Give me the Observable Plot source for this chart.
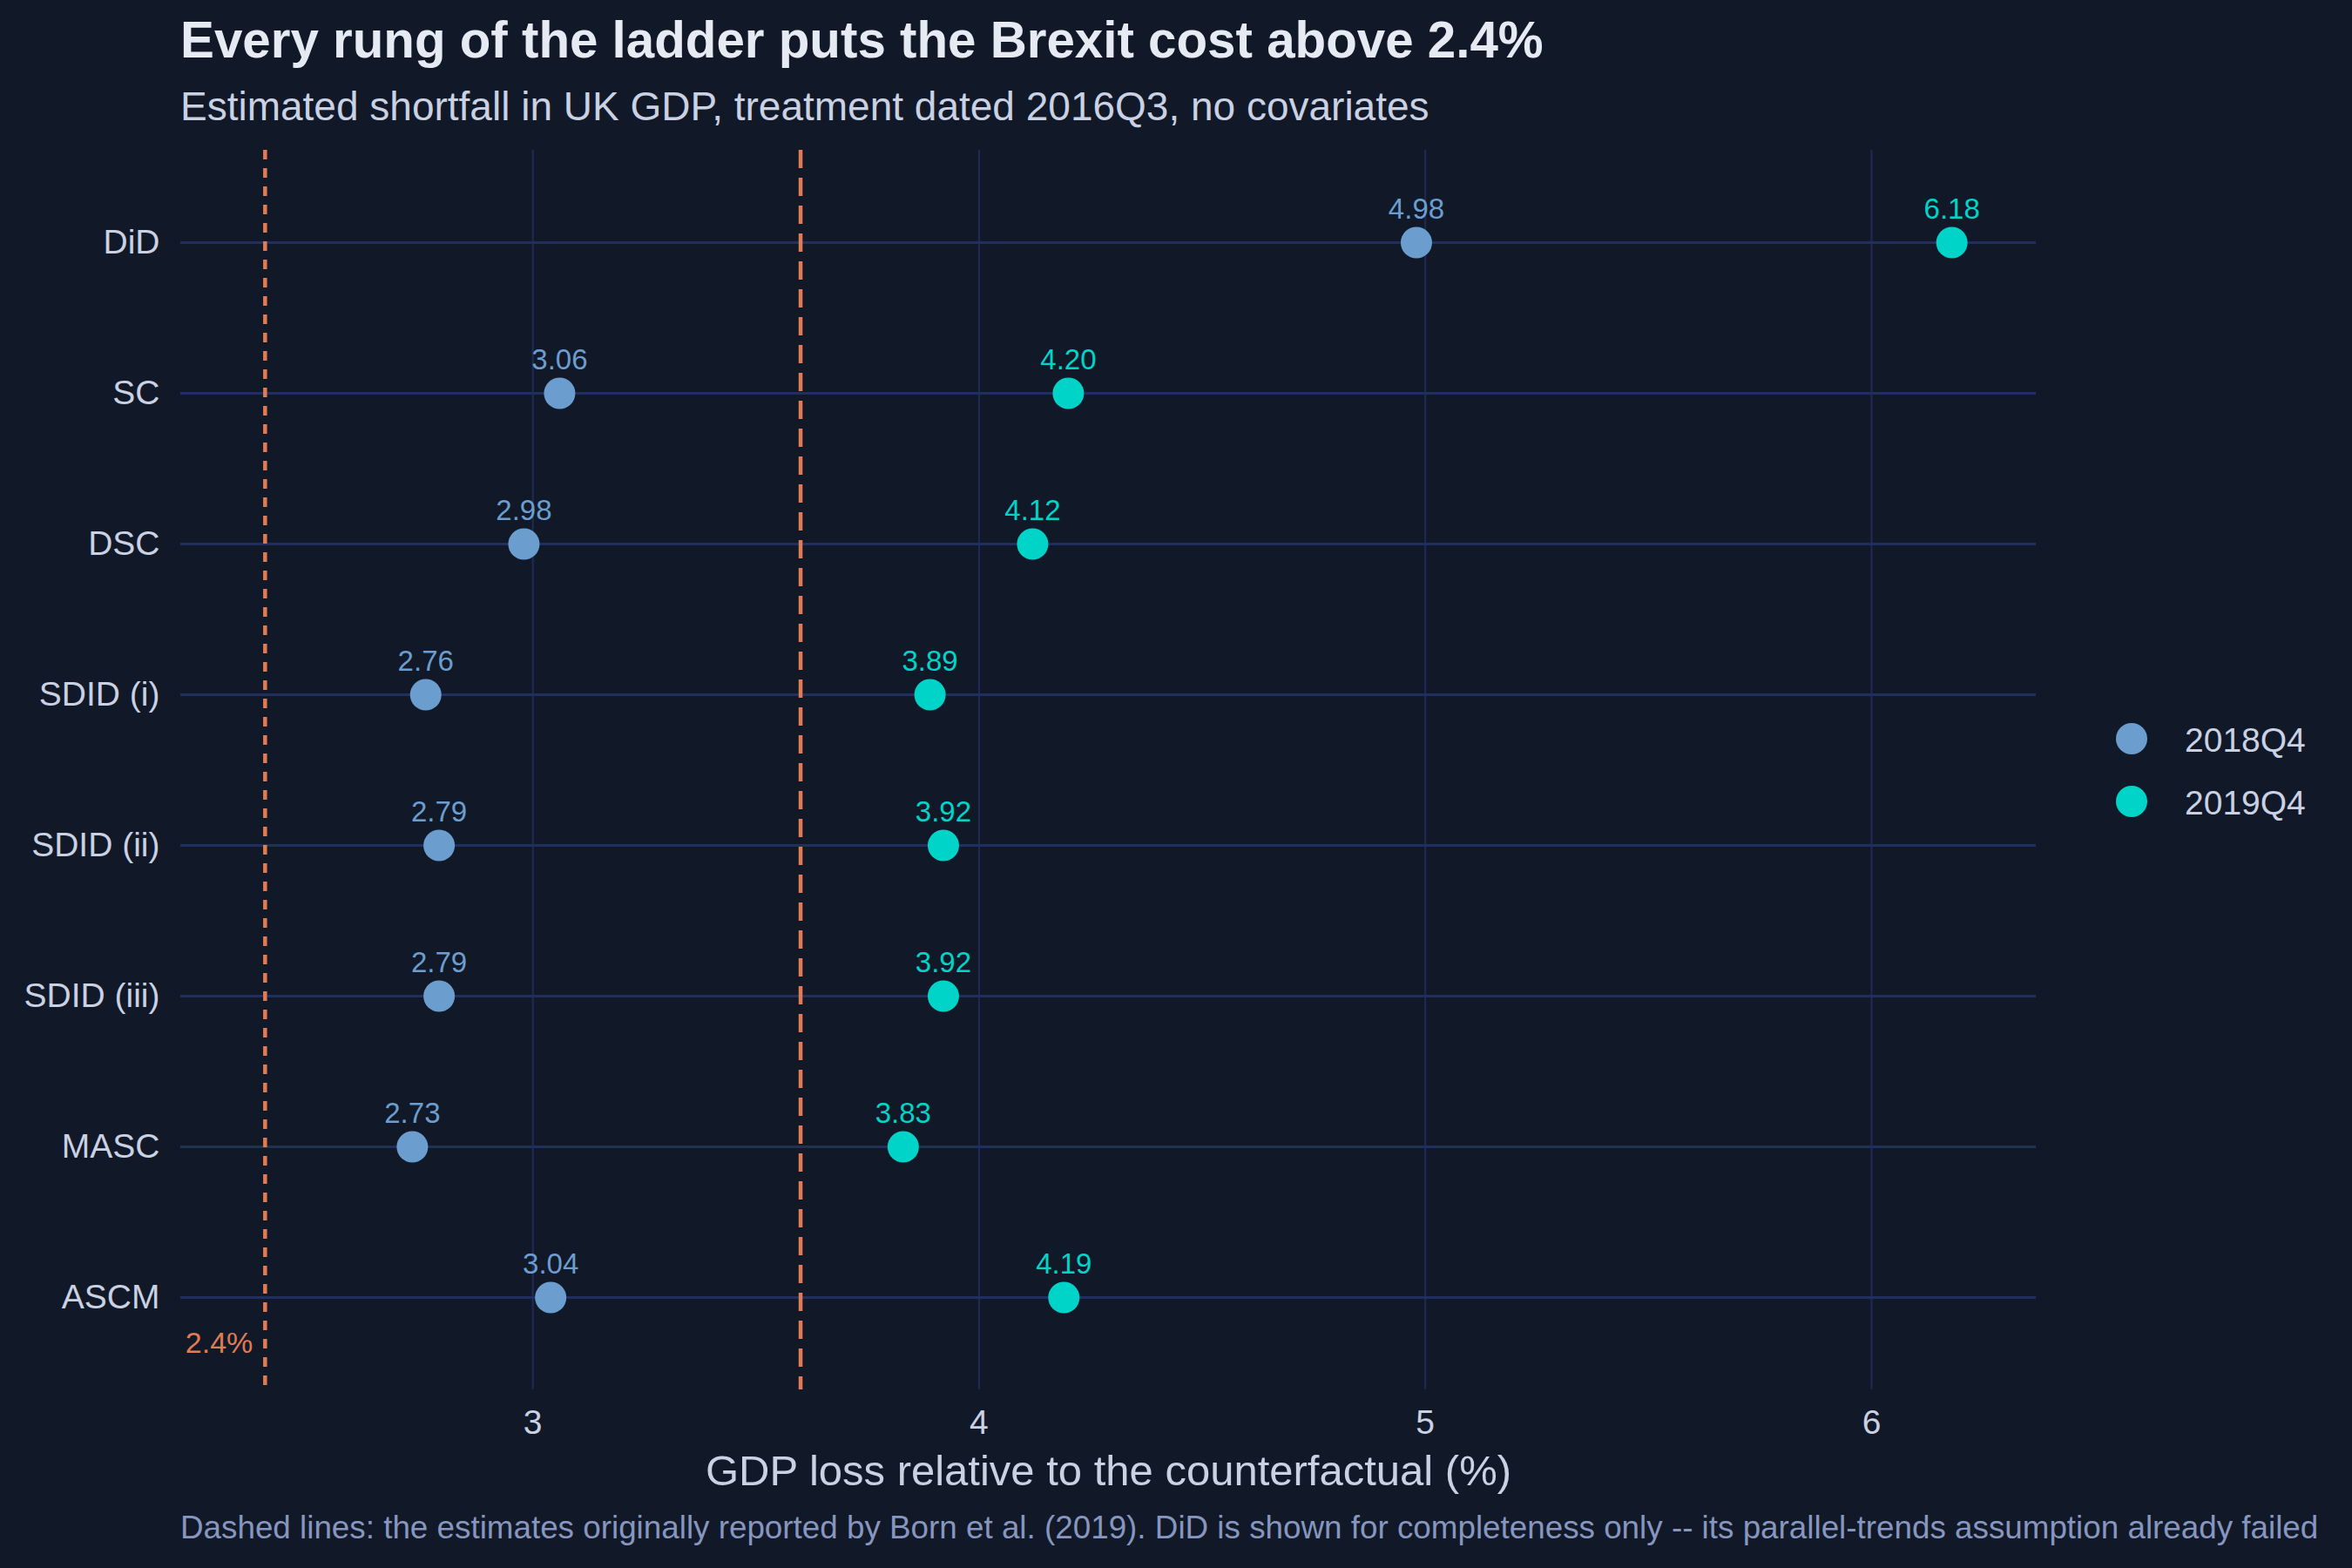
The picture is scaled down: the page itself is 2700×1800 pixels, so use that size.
<!DOCTYPE html>
<html><head><meta charset="utf-8">
<script src="https://cdn.jsdelivr.net/npm/d3@7"></script>
<script src="https://cdn.jsdelivr.net/npm/@observablehq/plot@0.6"></script>
<style>
html,body{margin:0;padding:0;background:#111827;overflow:hidden;}
#page{position:relative;width:2700px;height:1800px;background:#111827;font-family:"Liberation Sans",Arial,sans-serif;overflow:hidden;}
.t{position:absolute;white-space:nowrap;line-height:1;}
#chart{position:absolute;left:0;top:0;}
</style></head><body><div id="page"><div id="chart"></div></div>
<script>
const methods = ["DiD","SC","DSC","SDID (i)","SDID (ii)","SDID (iii)","MASC","ASCM"];
const periods = ["2018Q4","2019Q4"];
const gdpLoss2018Q4 = [4.98,3.06,2.98,2.76,2.79,2.79,2.73,3.04];
const gdpLoss2019Q4 = [6.18,4.20,4.12,3.89,3.92,3.92,3.83,4.19];
const bornEstimates = [2.4, 3.6];
const xTicks = [3,4,5,6];
const periodColors = ["#6b9ecf","#00d4c8"];
const titleText = "Every rung of the ladder puts the Brexit cost above 2.4%";
const subtitleText = "Estimated shortfall in UK GDP, treatment dated 2016Q3, no covariates";
const xLabel = "GDP loss relative to the counterfactual (%)";
const captionText = "Dashed lines: the estimates originally reported by Born et al. (2019). DiD is shown for completeness only -- its parallel-trends assumption already failed";

const data = [];
methods.forEach((m,i)=>{
  data.push({method:m, period:periods[0], value:gdpLoss2018Q4[i]});
  data.push({method:m, period:periods[1], value:gdpLoss2019Q4[i]});
});
const all = [...gdpLoss2018Q4, ...gdpLoss2019Q4, ...bornEstimates];
const lo = d3.min(all), hi = d3.max(all), pad = (hi-lo)*0.05;
const refColor = "#e07b53";

const chart = Plot.plot({
  width: 2700, height: 1800,
  marginTop: 172, marginBottom: 205, marginLeft: 207, marginRight: 363,
  style: {background:"transparent", color:"#c9d1e2", fontFamily:"'Liberation Sans', Arial, sans-serif", overflow:"visible"},
  x: {domain:[lo-pad, hi+pad]},
  y: {type:"point", domain: methods, padding: 0.6},
  color: {domain: periods, range: periodColors},
  marks: [
    Plot.gridX(xTicks, {stroke:"#1e2a55", strokeOpacity:1, strokeWidth:2.2}),
    Plot.gridY({stroke:"#212e60", strokeOpacity:1, strokeWidth:3}),
    Plot.ruleX([bornEstimates[0]], {stroke:refColor, strokeWidth:4.5, strokeDasharray:"11,10"}),
    Plot.ruleX([bornEstimates[1]], {stroke:refColor, strokeWidth:4.5, strokeDasharray:"21,11"}),
    Plot.text([bornEstimates[0]], {x: d=>d, frameAnchor:"bottom", text: d=>`${d}%`, textAnchor:"end", dx:-14, dy:-43, lineAnchor:"bottom", fill:refColor, fontSize:34}),
    Plot.axisX(xTicks, {tickSize:0, tickPadding:23, fontSize:39, label:null, tickFormat: d=>String(d)}),
    Plot.axisY({tickSize:0, tickPadding:24, fontSize:39, label:null}),
    Plot.dot(data, {x:"value", y:"method", fill:"period", r:18}),
    Plot.text(data, {x:"value", y:"method", text: d=>d.value.toFixed(2), fill:"period", dy:-28, lineAnchor:"bottom", fontSize:33}),
    Plot.text([xLabel], {frameAnchor:"bottom", text:d=>d, dy:109, lineAnchor:"bottom", fontSize:49, fill:"#c9d1e2"})
  ]
});
document.getElementById("chart").appendChild(chart);

const page = document.getElementById("page");
function addText(txt, left, top, size, color, weight){
  const d = document.createElement("div");
  d.className = "t";
  d.textContent = txt;
  Object.assign(d.style, {left:left+"px", top:top+"px", fontSize:size+"px", color:color, fontWeight:weight||"normal"});
  page.appendChild(d);
  return d;
}
addText(titleText, 207, 66 - 0.8465*58.3, 58.3, "#e6eaf2", "bold");
addText(subtitleText, 207, 138 - 0.8465*46, 46, "#c9d1e2");
addText(captionText, 207, 1767 - 0.8465*36.8, 36.8, "#8796bf");

periods.forEach((p,i)=>{
  const cy = 848 + i*72;
  const c = document.createElement("div");
  Object.assign(c.style, {position:"absolute", left:(2447-18)+"px", top:(cy-18)+"px", width:"36px", height:"36px", borderRadius:"50%", background:periodColors[i]});
  page.appendChild(c);
  addText(p, 2508, cy + 15 - 0.8465*39, 39, "#c9d1e2");
});
</script></body></html>
